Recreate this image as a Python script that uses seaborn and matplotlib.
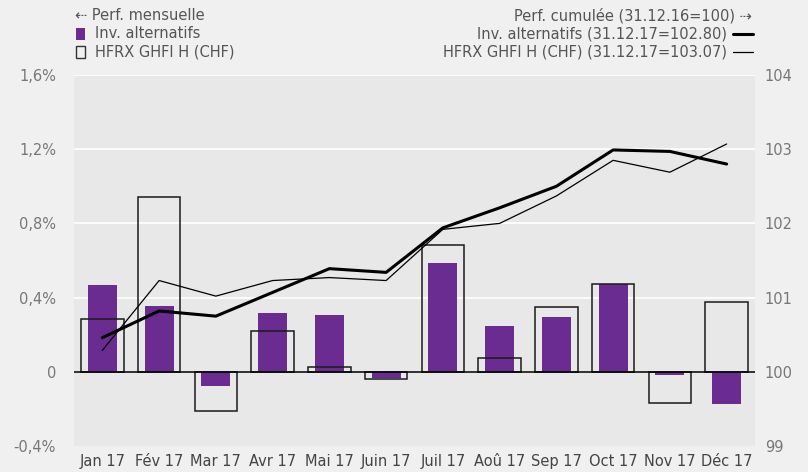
import matplotlib
matplotlib.use("Agg")
import matplotlib.pyplot as plt
import seaborn as sns
import numpy as np
import pandas as pd

months = ["Jan 17", "Fév 17", "Mar 17", "Avr 17", "Mai 17", "Juin 17",
          "Juil 17", "Aoû 17", "Sep 17", "Oct 17", "Nov 17", "Déc 17"]
monthly_inv = [0.47, 0.357, -0.079, 0.319, 0.308, -0.035,
               0.589, 0.249, 0.297, 0.472, -0.015, -0.171]
monthly_hfrx = [0.285, 0.944, -0.212, 0.22, 0.025, -0.04,
                0.686, 0.077, 0.35, 0.474, -0.166, 0.377]
cum_inv = [100.46, 100.82, 100.75, 101.07, 101.39, 101.34,
           101.94, 102.21, 102.50, 102.99, 102.97, 102.80]
cum_hfrx = [100.29, 101.23, 101.02, 101.23, 101.27, 101.23,
            101.92, 102.00, 102.37, 102.85, 102.69, 103.07]
left_ticks = [-0.4, 0.0, 0.4, 0.8, 1.2, 1.6]
left_labels = ["-0,4%", "0", "0,4%", "0,8%", "1,2%", "1,6%"]
right_ticks = [99, 100, 101, 102, 103, 104]

sns.set_theme(style="white")
plt.rcParams['font.family'] = ['DejaVu Sans']

purple = "#6a2c91"
fig = plt.figure(figsize=(8.08, 4.72), dpi=100, facecolor="#f0f0f0")
ax = fig.add_axes([74/808, 1-446/472, (755-74)/808, (446-75)/472])
ax.set_facecolor("#e8e8e8")

df = pd.DataFrame({"month": months, "inv": monthly_inv, "hfrx": monthly_hfrx,
                   "cinv": cum_inv, "chfrx": cum_hfrx})

for t in left_ticks[2:]:
    ax.axhline(t, color="white", lw=1.2, zorder=0.5)

sns.barplot(data=df, x="month", y="inv", color=purple, width=0.51,
            saturation=1, ax=ax, zorder=2, linewidth=0)
sns.barplot(data=df, x="month", y="hfrx", color="#1a1a1a", fill=False,
            width=0.75, ax=ax, zorder=3, linewidth=1.1)
ax.axhline(0, color="black", lw=1.1, zorder=4)

ax.set_ylim(-0.4, 1.6)
ax.set_xlim(-0.5, 11.5)
ax.set_yticks(left_ticks)
ax.set_yticklabels(left_labels)
ax.set_xlabel("")
ax.set_ylabel("")
ax.tick_params(axis="y", colors="#777777", labelsize=10.5, length=0, pad=13)
ax.tick_params(axis="x", colors="#444444", labelsize=10.5, length=0, pad=6)
for lab in ax.get_xticklabels():
    lab.set_color("#444444")
for s in ax.spines.values():
    s.set_visible(False)

ax2 = ax.twinx()
sns.lineplot(data=df, x="month", y="cinv", color="black", lw=2.2, ax=ax2,
             sort=False, zorder=5)
sns.lineplot(data=df, x="month", y="chfrx", color="black", lw=0.9, ax=ax2,
             sort=False, zorder=5)
ax2.set_ylim(99, 104)
ax2.set_yticks(right_ticks)
ax2.set_xlim(-0.5, 11.5)
ax2.set_ylabel("")
ax2.set_xlabel("")
ax2.tick_params(axis="y", colors="#777777", labelsize=10.5, length=0, pad=7)
for s in ax2.spines.values():
    s.set_visible(False)

# Legend
fs = 10.5
tc = "#555555"
fig.text(75/808, 1-16/472, "⇠ Perf. mensuelle", fontsize=fs, color=tc, va="center", ha="left")
fig.patches.append(plt.Rectangle((76/808, 1-40/472), 9/808, 12/472, transform=fig.transFigure,
                                 facecolor=purple, edgecolor="none"))
fig.text(95/808, 1-34/472, "Inv. alternatifs", fontsize=fs, color=tc, va="center", ha="left")
fig.patches.append(plt.Rectangle((76/808, 1-58/472), 9/808, 12/472, transform=fig.transFigure,
                                 facecolor="none", edgecolor="#333333", lw=1))
fig.text(95/808, 1-52/472, "HFRX GHFI H (CHF)", fontsize=fs, color=tc, va="center", ha="left")

fig.text(752/808, 1-16/472, "Perf. cumulée (31.12.16=100) ⇢", fontsize=fs, color=tc, va="center", ha="right")
fig.text(727/808, 1-34/472, "Inv. alternatifs (31.12.17=102.80)", fontsize=fs, color=tc, va="center", ha="right")
fig.text(727/808, 1-52/472, "HFRX GHFI H (CHF) (31.12.17=103.07)", fontsize=fs, color=tc, va="center", ha="right")
fig.lines.append(plt.Line2D([733/808, 753/808], [1-34/472, 1-34/472], transform=fig.transFigure,
                            color="black", lw=2.2))
fig.lines.append(plt.Line2D([733/808, 753/808], [1-52/472, 1-52/472], transform=fig.transFigure,
                            color="black", lw=0.9))

fig.savefig("out.png", dpi=100, facecolor=fig.get_facecolor())
